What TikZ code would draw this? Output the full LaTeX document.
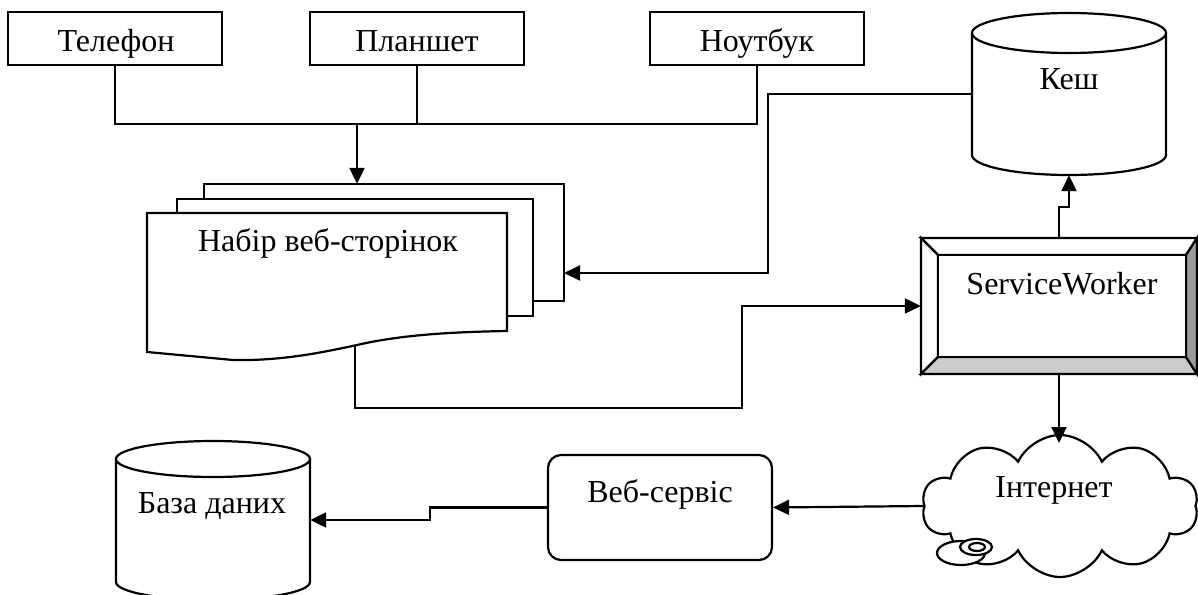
\documentclass[tikz,border=0pt]{standalone}
\usepackage{fontspec}
\setmainfont{Liberation Serif}
\usetikzlibrary{arrows.meta,shapes.symbols}
\begin{document}
\begin{tikzpicture}[x=1pt,y=-1pt,
  ln/.style={line width=2.2pt},
  box/.style={draw, ln, rectangle, minimum width=214pt, minimum height=53pt, inner sep=0pt},
  lbl/.style={font=\fontsize{32}{38}\selectfont, anchor=base, inner sep=0pt},
  arr/.style={ln, -{Triangle[length=16pt,width=15pt]}},
  area/.style={draw=none, rectangle, inner sep=0pt},
]
\clip (0,0) rectangle (1198,594);
\useasboundingbox (0,0) rectangle (1198,594);

% device boxes
\node[box] (tel) at (115,38.5) {};
\node[box] (pl)  at (417,38.5) {};
\node[box] (nb)  at (757,38.5) {};
\node[lbl] (teltxt) at (116,52) {Телефон};
\node[lbl] (pltxt)  at (417,52) {Планшет};
\node[lbl] (nbtxt)  at (757,52) {Ноутбук};

% multi-document
\node[area, minimum width=360pt, minimum height=117pt] (docback) at (384,242.5) {};
\draw[ln, fill=white] (204,184) rectangle (564,301);
\draw[ln, fill=white] (177,199) rectangle (533,316);
\draw[ln, fill=white] (147,213) -- (507,213) -- (507,331)
   .. controls (450,332) and (400,335) .. (357,345)
   .. controls (320,353) and (280,361) .. (233,360) -- (147,352) -- cycle;
\node[lbl] (doctxt) at (328,251) {Набір веб-сторінок};
\coordinate (docin) at (564,273);
\coordinate (docout) at (355,346);

% Кеш cylinder
\node[area, minimum width=194pt, minimum height=162pt] (kesh) at (1069,94) {};
\draw[ln, fill=white] (972,33) -- (972,155) arc[start angle=180,end angle=360,x radius=97pt,y radius=20pt] -- (1166,33);
\draw[ln, fill=white] (1069,33) ellipse[x radius=97pt, y radius=20pt];
\node[lbl] (keshtxt) at (1069,89) {Кеш};

% База даних cylinder
\node[area, minimum width=194pt, minimum height=160pt] (db) at (213,520) {};
\draw[ln, fill=white] (116,459) -- (116,582) arc[start angle=180,end angle=360,x radius=97pt,y radius=18pt] -- (310,459);
\draw[ln, fill=white] (213,459) ellipse[x radius=97pt, y radius=18pt];
\node[lbl] (dbtxt) at (212,513) {База даних};

% ServiceWorker bevel box
\node[area, minimum width=276pt, minimum height=136pt] (sw) at (1059,306) {};
\draw[ln, fill=white] (921,238) -- (1197,238) -- (1186,255) -- (938,255) -- cycle;
\draw[ln, fill=white] (921,238) -- (938,255) -- (938,357) -- (921,374) -- cycle;
\draw[ln, fill=black!20] (921,374) -- (938,357) -- (1186,357) -- (1197,374) -- cycle;
\draw[ln, fill=black!40] (1197,238) -- (1186,255) -- (1186,357) -- (1197,374) -- cycle;
\draw[ln, fill=white] (938,255) rectangle (1186,357);
\node[lbl] (swtxt) at (1062,294) {ServiceWorker};

% cloud
\node[cloud, draw, ln, fill=white, cloud puffs=10, cloud puff arc=130, aspect=1.9, minimum width=276pt, minimum height=142pt, inner sep=0pt] (net) at (1060,506) {};
\draw[ln, fill=white] (961,553) ellipse[x radius=24pt,y radius=12pt];
\draw[ln, fill=white] (976,547) ellipse[x radius=16pt,y radius=8pt];
\draw[ln] (977,547) ellipse[x radius=8pt,y radius=4pt];
\node[lbl] (nettxt) at (1054,497) {Інтернет};

% Веб-сервіс
\node[draw, ln, rectangle, rounded corners=13pt, minimum width=224pt, minimum height=105pt] (web) at (660,507.5) {};
\node[lbl] (webtxt) at (660,502) {Веб-сервіс};

% connectors
\coordinate (bus) at (357,124);
\draw[ln] (tel.south) -- (tel.south |- bus) -- (nb.south |- bus) -- (nb.south);
\draw[ln] (pl.south) -- (pl.south |- bus);
\draw[arr] (bus) -- (bus |- docback.north);
\draw[arr] (kesh.west) -- (768,94) -- (768,273) -- (docin);
\draw[arr] (docout) -- (355,408) -- (742,408) -- (742,306) -- (sw.west);
\draw[arr] (sw.north) -- (1059,207) -- (1069,207) -- (kesh.south);
\draw[arr] (sw.south) -- (1059,443);
\draw[arr] (net.west) -- (web.east);
\draw[arr] (web.west) -- (430,507.5) |- (db.east);
\end{tikzpicture}
\end{document}
